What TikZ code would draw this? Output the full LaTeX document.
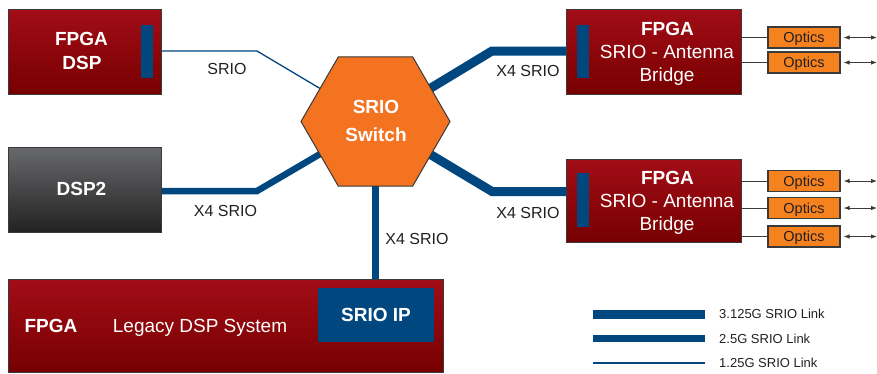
\documentclass[tikz,border=0pt]{standalone}
\usepackage{fontspec}
\setmainfont{Liberation Sans}
\usetikzlibrary{shapes.geometric,arrows.meta,backgrounds}

\definecolor{fpgatop}{HTML}{A10D16}
\definecolor{fpgabot}{HTML}{780000}
\definecolor{dsptop}{HTML}{68696C}
\definecolor{dspbot}{HTML}{222222}
\definecolor{srioblue}{HTML}{00467F}
\definecolor{hexorange}{HTML}{F37321}
\definecolor{optorange}{HTML}{F5821F}
\definecolor{edgegray}{HTML}{3A3A3A}
\definecolor{inkdark}{HTML}{231F20}

\begin{document}
\begin{tikzpicture}[x=1pt,y=-1pt,
  chip/.style={draw=edgegray, line width=1pt, inner sep=0pt, outer sep=0pt,
    top color=fpgatop, bottom color=fpgabot},
  darkchip/.style={chip, top color=dsptop, bottom color=dspbot},
  portbar/.style={fill=srioblue, draw=none, inner sep=0pt, minimum width=12pt},
  switchhex/.style={regular polygon, regular polygon sides=6, minimum size=149pt,
    fill=hexorange, draw=edgegray, line width=1pt, inner sep=0pt, outer sep=0pt},
  optbox/.style={draw=edgegray, line width=1.1pt, fill=optorange, inner sep=0pt,
    minimum width=72pt, minimum height=21pt, text=inkdark,
    font=\fontsize{14.5}{16}\selectfont, text height=10.4pt, text depth=0pt},
  ipbox/.style={fill=srioblue, draw=none, inner sep=0pt, text=white,
    font=\bfseries\fontsize{19}{22}\selectfont, text height=13.6pt, text depth=0pt},
  bigtxt/.style={text=white, inner sep=0pt, anchor=base, font=\fontsize{19}{22}\selectfont},
  bigbold/.style={bigtxt, font=\bfseries\fontsize{19}{22}\selectfont},
  linklbl/.style={text=inkdark, inner sep=0pt, anchor=base, font=\fontsize{16}{18}\selectfont},
  keylbl/.style={text=inkdark, inner sep=0pt, anchor=base west, font=\fontsize{13}{15}\selectfont},
  linkfast/.style={draw=srioblue, line width=9pt},
  linkmid/.style={draw=srioblue, line width=6.5pt},
  linkslow/.style={draw=srioblue, line width=1.3pt},
  wire/.style={draw=edgegray, line width=1pt},
  fiber/.style={draw=edgegray, line width=0.9pt,
    {Latex[length=6pt,width=4.5pt]}-{Latex[length=6pt,width=4.5pt]}}
]
\useasboundingbox (0,0) rectangle (877,373);

% ---------- blocks ----------
\node[chip, minimum width=153pt, minimum height=85pt] (fdsp) at (84.5,51.5) {};
\node[portbar, minimum height=53pt] (bar0) at (147,51.5) {};
\node[bigbold] (fdspA) at (81.5,45.8) {FPGA};
\node[bigbold] (fdspB) at (82,69.3) {DSP};

\node[darkchip, minimum width=153pt, minimum height=85pt] (dsp2) at (84.5,189.5) {};
\node[bigbold] (dsp2t) at (81.5,195.8) {DSP2};

\node[chip, minimum width=175pt, minimum height=85pt] (rb1) at (653.5,51.5) {};
\node[portbar, minimum height=53pt] (bar1) at (583,51.5) {};
\node[bigbold] (rb1a) at (667.5,35.8) {FPGA};
\node[bigtxt] (rb1b) at (667,58.3) {SRIO - Antenna};
\node[bigtxt] (rb1c) at (667,81.8) {Bridge};

\node[chip, minimum width=175pt, minimum height=83pt] (rb2) at (653.5,200.5) {};
\node[portbar, minimum height=54pt] (bar2) at (583,200) {};
\node[bigbold] (rb2a) at (667.5,184.8) {FPGA};
\node[bigtxt] (rb2b) at (667,207.3) {SRIO - Antenna};
\node[bigtxt] (rb2c) at (667,230.3) {Bridge};

\node[chip, minimum width=435pt, minimum height=93pt] (legacy) at (225.5,325.5) {};
\node[bigbold] (legA) at (51,332.8) {FPGA};
\node[bigtxt] (legB) at (200,332.8) {Legacy DSP System};
\node[ipbox, minimum width=116pt, minimum height=54pt] (ip) at (376,315) {SRIO IP};

\node[switchhex] (hex) at (375.5,121.5) {};
\node[bigbold] (hexA) at (376,113.8) {SRIO};
\node[bigbold] (hexB) at (376,141.3) {Switch};

% ---------- optics ----------
\foreach \n/\yy/\br in {oa/37.5/rb1, ob/62.5/rb1, oc/181/rb2, od/208/rb2, oe/236.5/rb2}{
  \node[optbox] (\n) at (804,\yy) {Optics};
  \coordinate (\n end) at (877,\yy);
  \draw[wire] (\n.west -| \br.east) -- (\n.west);
  \draw[fiber, shorten <=3pt] (\n.east) -- (\n end);
}

% ---------- links (behind the blocks) ----------
\coordinate (k0) at (257,51);
\coordinate (k1) at (257,191);
\coordinate (k2) at (492,51);
\coordinate (k3) at (492,191.5);
\begin{pgfonlayer}{background}
  \draw[linkslow, shorten >=-4pt] (fdsp.east |- k0) -- (k0) -- (hex);
  \draw[linkmid, shorten >=-8pt] (dsp2.east |- k1) -- (k1) -- (hex);
  \draw[linkfast, shorten <=-8pt] (hex) -- (k2) -- (bar1.center |- k2);
  \draw[linkfast, shorten <=-8pt] (hex) -- (k3) -- (bar2.center |- k3);
  \draw[linkmid, shorten <=-4pt, shorten >=-4pt] (hex.south) -- (hex.south |- ip.north);
\end{pgfonlayer}

\node[linklbl] (l0) at (227,74.7) {SRIO};
\node[linklbl] (l1) at (225.5,216.7) {X4 SRIO};
\node[linklbl] (l2) at (528,76.7) {X4 SRIO};
\node[linklbl] (l3) at (528,218.7) {X4 SRIO};
\node[linklbl] (l4) at (417,244.2) {X4 SRIO};

% ---------- key ----------
\coordinate (ka1) at (593,314);   \coordinate (kb1) at (705,314);
\coordinate (ka2) at (593,338.5); \coordinate (kb2) at (705,338.5);
\coordinate (ka3) at (593,363);   \coordinate (kb3) at (705,363);
\draw[linkfast] (ka1) -- (kb1);
\draw[linkmid] (ka2) -- (kb2);
\draw[linkslow] (ka3) -- (kb3);
\node[keylbl] (t1) at (719,318.2) {3.125G SRIO Link};
\node[keylbl] (t2) at (719,343.2) {2.5G SRIO Link};
\node[keylbl] (t3) at (719,367.7) {1.25G SRIO Link};
\end{tikzpicture}
\end{document}
